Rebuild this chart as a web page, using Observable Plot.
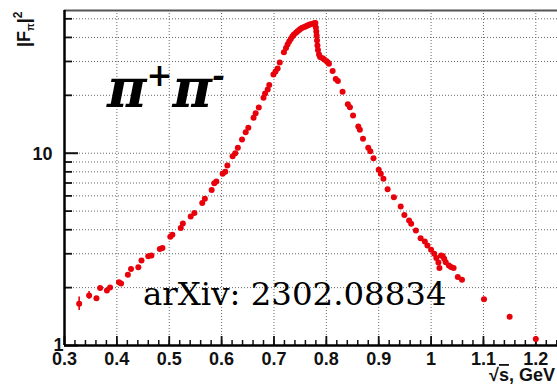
<!DOCTYPE html>
<html><head><meta charset="utf-8">
<script src="https://cdn.jsdelivr.net/npm/d3@7"></script>
<script src="https://cdn.jsdelivr.net/npm/@observablehq/plot@0.6"></script>
<style>html,body{margin:0;padding:0;background:#fff;} svg{display:block}</style>
</head><body><div id="chart"></div>
<script>
// ---- data ----
const sqrtS = [0.328,0.347,0.361,0.368,0.381,0.387,0.404,0.408,0.421,0.427,0.441,0.447,0.460,0.466,0.482,0.487,0.502,0.506,0.522,0.526,
0.541,0.548,0.563,0.568,0.581,0.586,0.590,0.602,0.607,0.611,0.621,0.626,0.631,0.639,0.646,0.651,0.661,0.665,0.671,0.680,
0.683,0.688,0.691,0.699,0.703,0.707,0.711,0.719,0.723,0.726,0.729,0.732,0.735,0.738,0.742,0.745,0.748,0.751,0.754,0.758,
0.761,0.764,0.767,0.770,0.774,0.777,0.779,0.7800,0.7808,0.7815,0.7822,0.7830,0.7840,0.786,0.788,0.793,0.796,0.800,0.803,0.805,
0.812,0.818,0.822,0.831,0.841,0.845,0.851,0.861,0.864,0.870,0.880,0.884,0.890,0.900,0.904,0.909,0.917,0.929,0.942,0.949,
0.958,0.962,0.971,0.980,0.988,0.993,1.000,1.006,1.010,1.014,1.016,1.019,1.022,1.025,1.028,1.034,1.038,1.043,1.051,1.059,
1.101,1.150,1.200];
const ff2 = [1.65,1.82,1.76,1.99,1.93,2.00,2.13,2.10,2.33,2.50,2.55,2.77,2.91,2.94,3.18,3.21,3.68,3.77,4.08,4.31,
4.69,4.89,5.51,5.79,6.44,6.98,7.13,7.82,8.01,8.63,9.64,9.99,10.67,11.78,12.86,13.56,15.28,16.14,17.29,19.42,
20.44,21.45,22.63,25.67,26.60,27.57,29.63,33.51,35.25,36.76,38.10,39.26,40.45,41.43,42.28,43.05,43.73,44.36,44.89,45.33,
45.76,46.15,46.53,46.81,47.09,47.38,47.55,45.06,42.95,40.94,38.56,36.31,34.42,32.61,31.64,31.15,30.71,30.17,29.63,29.17,
26.76,24.31,23.74,20.86,17.98,17.35,15.70,13.77,13.23,11.88,10.67,10.24,9.42,8.20,7.82,7.36,6.49,5.90,5.28,4.77,
4.47,4.30,3.96,3.61,3.47,3.31,3.15,3.00,2.85,2.70,2.53,2.94,2.92,2.83,2.71,2.61,2.56,2.53,2.27,2.20,
1.74,1.41,1.08];
const errS  = [0.328, 0.347];
const errLo = [1.52, 1.74];
const errHi = [1.79, 1.91];

const xTicks  = [0.3,0.4,0.5,0.6,0.7,0.8,0.9,1.0,1.1,1.2];
const xLabels = ["0.3","0.4","0.5","0.6","0.7","0.8","0.9","1","1.1","1.2"];
const yGrid   = [2,3,4,5,6,7,8,9,10,20,30,40,50];
const yMinor  = [2,3,4,5,6,7,8,9,20,30,40,50];
const yMajor  = [1,10];
const yLabels = ["1","10"];

const xMax = 1.2414, yMax = 55.23;
const red = "#e8000b";
const pts  = sqrtS.map((s,i)=>({s, f: ff2[i]}));
const errs = errS.map((s,i)=>({s, lo: errLo[i], hi: errHi[i]}));
const xMinor = d3.range(0.32, 1.245, 0.02);

const grid = {stroke:"#666", strokeOpacity:1, strokeWidth:1, strokeDasharray:"1,2"};

const plot = Plot.plot({
  width: 557, height: 384,
  marginLeft: 64, marginRight: 0, marginTop: 10, marginBottom: 39,
  x: {domain: [0.3, xMax]},
  y: {type: "log", domain: [1, yMax]},
  style: {fontFamily: "'Liberation Sans', Arial, sans-serif", background: "#fff", color: "#111"},
  marks: [
    Plot.ruleX(xTicks.slice(1), {...grid}),
    Plot.ruleY(yGrid, {...grid}),
    Plot.ruleY([yMax], {stroke:"#555", strokeWidth:2}),
    Plot.axisX({ticks: xMinor, tickSize: -5, tickFormat: () => "", label: null, strokeWidth: 1.5}),
    Plot.axisX({ticks: xTicks, tickSize: -9, tickFormat: () => "", label: null, strokeWidth: 1.8}),
    Plot.axisY({ticks: yMinor, tickSize: -8, tickFormat: () => "", label: null, strokeWidth: 1.8}),
    Plot.axisY({ticks: yMajor, tickSize: -14, tickFormat: () => "", label: null, strokeWidth: 2}),
    Plot.ruleX([0.3], {stroke:"#000", strokeWidth:2.5}),
    Plot.ruleY([1], {stroke:"#000", strokeWidth:2.5}),
    Plot.text(xTicks, {x: d => d, y: () => 1, text: (d,i) => xLabels[i], dy: 14, fontSize: 18, fontWeight: "bold", fill: "#111"}),
    Plot.text([yMajor[1]], {x: () => 0.3, y: d => d, text: () => yLabels[1], textAnchor: "end", dx: -12, dy: 1, fontSize: 18, fontWeight: "bold", fill: "#111"}),
    Plot.text([yMajor[0]], {x: () => 0.3, y: d => d, text: () => yLabels[0], textAnchor: "end", dx: -1, dy: 0, fontSize: 18, fontWeight: "bold", fill: "#111"}),
    Plot.ruleX(errs, {x: "s", y1: "lo", y2: "hi", stroke: red, strokeWidth: 1.6}),
    Plot.dot(pts, {x: "s", y: "f", r: 3, fill: red, stroke: "none"})
  ]
});
document.getElementById("chart").appendChild(plot);

const svg = d3.select(plot);
// y title |F_pi|^2
const yt = svg.append("text")
  .attr("transform", "translate(30,47) rotate(-90)")
  .attr("text-anchor", "start")
  .style("font-family", "'Liberation Sans', Arial, sans-serif")
  .style("font-weight", "bold").style("font-size", "18px").attr("fill", "#111");
yt.append("tspan").text("|F");
yt.append("tspan").attr("dy", 4).style("font-size", "10px").text("π");
yt.append("tspan").attr("dy", -4).text("|");
yt.append("tspan").attr("dy", -8).style("font-size", "12px").text("2");

// x title
const xt = svg.append("text")
  .attr("x", 555).attr("y", 381).attr("text-anchor", "end")
  .style("font-family", "'Liberation Sans', Arial, sans-serif")
  .style("font-weight", "bold").style("font-size", "18px").attr("fill", "#111");
xt.append("tspan").text("√");
xt.append("tspan").style("text-decoration", "overline").text("s");
xt.append("tspan").text(", GeV");

// pi+ pi- label
const pp = svg.append("text")
  .attr("x", 107).attr("y", 107).attr("text-anchor", "start")
  .style("font-family", "'DejaVu Serif', serif")
  .style("font-weight", "bold").style("font-style", "italic").style("font-size", "54px").attr("fill", "#000");
pp.append("tspan").text("π");
pp.append("tspan").attr("dy", -21).style("font-size", "31px").text("+");
pp.append("tspan").attr("dy", 21).text("π");
pp.append("tspan").attr("dy", -21).style("font-size", "31px").text("-");

// arXiv label
svg.append("text")
  .attr("x", 143).attr("y", 305).attr("text-anchor", "start")
  .style("font-family", "'DejaVu Serif', serif")
  .style("font-size", "32.4px").attr("fill", "#000")
  .text("arXiv: 2302.08834");
</script>
</body></html>
